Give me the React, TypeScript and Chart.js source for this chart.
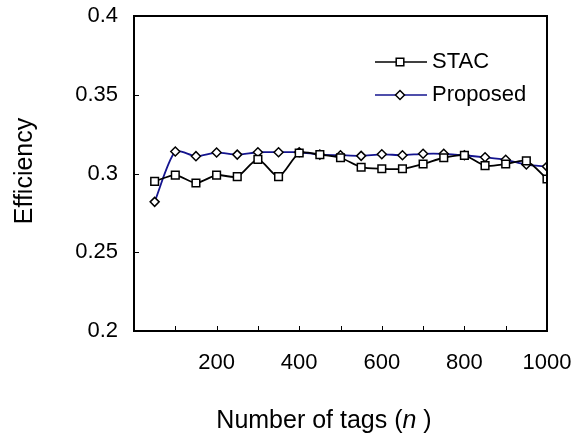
import React, { useEffect, useRef } from 'react';
import { Chart, registerables } from 'chart.js';

Chart.register(...registerables);

const tagCounts = [50, 100, 150, 200, 250, 300, 350, 400, 450, 500, 550, 600, 650, 700, 750, 800, 850, 900, 950, 1000];
const stacValues = [0.295, 0.299, 0.294, 0.299, 0.298, 0.309, 0.298, 0.313, 0.312, 0.310, 0.304, 0.303, 0.303, 0.306, 0.310, 0.3115, 0.305, 0.306, 0.308, 0.2965];
const proposedValues = [0.282, 0.314, 0.311, 0.3133, 0.312, 0.3135, 0.3135, 0.3135, 0.312, 0.3116, 0.3112, 0.3122, 0.3116, 0.3125, 0.3125, 0.3116, 0.3103, 0.3087, 0.3057, 0.3044];
const seriesNames = ['STAC', 'Proposed'];
const xTitle = ['Number of tags (', 'n', ' )'];
const yTitle = 'Efficiency';

const FONT = '"Liberation Sans", Arial, sans-serif';
const FS = 22;
const TFS = 25;
const STAC_COLOR = '#000000';
const PROP_COLOR = '#14148f';

function drawSquare(ctx: CanvasRenderingContext2D, x: number, y: number) {
  ctx.beginPath();
  ctx.rect(x - 3.8, y - 3.8, 7.6, 7.6);
  ctx.fillStyle = '#fff';
  ctx.fill();
  ctx.lineWidth = 1.5;
  ctx.strokeStyle = '#000';
  ctx.stroke();
}
function drawDiamond(ctx: CanvasRenderingContext2D, x: number, y: number) {
  ctx.beginPath();
  ctx.moveTo(x, y - 4.5);
  ctx.lineTo(x + 4.5, y);
  ctx.lineTo(x, y + 4.5);
  ctx.lineTo(x - 4.5, y);
  ctx.closePath();
  ctx.fillStyle = '#fff';
  ctx.fill();
  ctx.lineWidth = 1.5;
  ctx.strokeStyle = '#000';
  ctx.stroke();
}

const framePlugin = {
  id: 'frame',
  afterDraw(chart: any) {
    const ctx: CanvasRenderingContext2D = chart.ctx;
    const a = chart.chartArea;
    const xs = chart.scales.x;
    const ys = chart.scales.y;
    ctx.save();
    // box
    ctx.strokeStyle = '#000';
    ctx.lineWidth = 2;
    ctx.strokeRect(a.left, a.top, a.right - a.left, a.bottom - a.top);
    // inner ticks
    ctx.lineWidth = 1;
    ctx.beginPath();
    xs.ticks.forEach((t: any) => {
      if (t.value <= xs.min || t.value >= xs.max) return;
      const px = Math.round(xs.getPixelForValue(t.value)) + 0.5;
      ctx.moveTo(px, a.bottom);
      ctx.lineTo(px, a.bottom - 5);
    });
    ys.ticks.forEach((t: any) => {
      if (t.value <= ys.min || t.value >= ys.max) return;
      const py = Math.round(ys.getPixelForValue(t.value)) + 0.5;
      ctx.moveTo(a.left, py);
      ctx.lineTo(a.left + 5, py);
    });
    ctx.stroke();

    // legend
    const lx = a.left + 241;
    const ly1 = a.top + 46;
    const ly2 = a.top + 79;
    ctx.lineWidth = 1.6;
    ctx.strokeStyle = STAC_COLOR;
    ctx.beginPath();
    ctx.moveTo(lx, ly1);
    ctx.lineTo(lx + 52, ly1);
    ctx.stroke();
    drawSquare(ctx, lx + 25, ly1);
    ctx.strokeStyle = PROP_COLOR;
    ctx.beginPath();
    ctx.moveTo(lx, ly2);
    ctx.lineTo(lx + 52, ly2);
    ctx.stroke();
    drawDiamond(ctx, lx + 25, ly2);
    ctx.fillStyle = '#000';
    ctx.font = `${FS}px ${FONT}`;
    ctx.textBaseline = 'middle';
    ctx.textAlign = 'left';
    ctx.fillText(seriesNames[0], lx + 57, ly1);
    ctx.fillText(seriesNames[1], lx + 57, ly2);

    // x title
    const normal = `${TFS}px ${FONT}`;
    const italic = `italic ${TFS}px ${FONT}`;
    ctx.font = normal;
    const w0 = ctx.measureText(xTitle[0]).width;
    const w2 = ctx.measureText(xTitle[2]).width;
    ctx.font = italic;
    const w1 = ctx.measureText(xTitle[1]).width;
    const total = w0 + w1 + w2;
    let sx = 324 - total / 2;
    const ty = 421;
    ctx.font = normal;
    ctx.fillText(xTitle[0], sx, ty);
    sx += w0;
    ctx.font = italic;
    ctx.fillText(xTitle[1], sx, ty);
    sx += w1;
    ctx.font = normal;
    ctx.fillText(xTitle[2], sx, ty);

    // y title
    ctx.save();
    ctx.translate(25, 171);
    ctx.rotate(-Math.PI / 2);
    ctx.textAlign = 'center';
    ctx.font = normal;
    ctx.fillText(yTitle, 0, 0);
    ctx.restore();
    ctx.restore();
  },
};

export default function App() {
  const ref = useRef<HTMLCanvasElement | null>(null);
  useEffect(() => {
    if (!ref.current) return;
    const chart = new Chart(ref.current, {
      type: 'line',
      data: {
        datasets: [
          {
            label: seriesNames[0],
            data: tagCounts.map((x, i) => ({ x, y: stacValues[i] })),
            borderColor: STAC_COLOR,
            borderWidth: 1.8,
            pointStyle: 'rect',
            pointRadius: 5.4,
            pointBorderWidth: 1.5,
            pointBackgroundColor: '#fff',
            pointBorderColor: '#000',
            tension: 0.25,
          },
          {
            label: seriesNames[1],
            data: tagCounts.map((x, i) => ({ x, y: proposedValues[i] })),
            borderColor: PROP_COLOR,
            borderWidth: 1.8,
            pointStyle: 'rectRot',
            pointRadius: 4.5,
            pointBorderWidth: 1.5,
            pointBackgroundColor: '#fff',
            pointBorderColor: '#000',
            tension: 0.25,
          },
        ],
      },
      options: {
        animation: false,
        responsive: false,
        maintainAspectRatio: false,
        layout: { padding: { left: 0, top: 16, right: 36, bottom: 0 } },
        plugins: { legend: { display: false }, tooltip: { enabled: false } },
        scales: {
          x: {
            type: 'linear',
            min: 0,
            max: 1000,
            grid: { display: false, drawTicks: false },
            border: { display: false },
            ticks: {
              stepSize: 100,
              autoSkip: false,
              maxRotation: 0,
              padding: 19,
              color: '#000',
              font: { family: FONT, size: FS },
              callback: (v: any) => (v > 0 && v % 200 === 0 ? String(v) : ''),
            },
            afterFit: (s: any) => {
              s.height = 107;
              s.paddingLeft = 0;
              s.paddingRight = 0;
            },
          },
          y: {
            min: 0.2,
            max: 0.4,
            grid: { display: false, drawTicks: false },
            border: { display: false },
            ticks: {
              stepSize: 0.05,
              padding: 16,
              color: '#000',
              font: { family: FONT, size: FS },
              callback: (v: any) => String(Math.round(v * 100) / 100),
            },
            afterFit: (s: any) => {
              s.width = 134;
              s.paddingTop = 0;
              s.paddingBottom = 0;
            },
          },
        },
      },
      plugins: [framePlugin],
    });
    return () => chart.destroy();
  }, []);
  return (
    <div style={{ position: 'fixed', left: 0, top: 0, width: 583, height: 438, background: '#fff' }}>
      <canvas ref={ref} width={583} height={438} />
    </div>
  );
}
